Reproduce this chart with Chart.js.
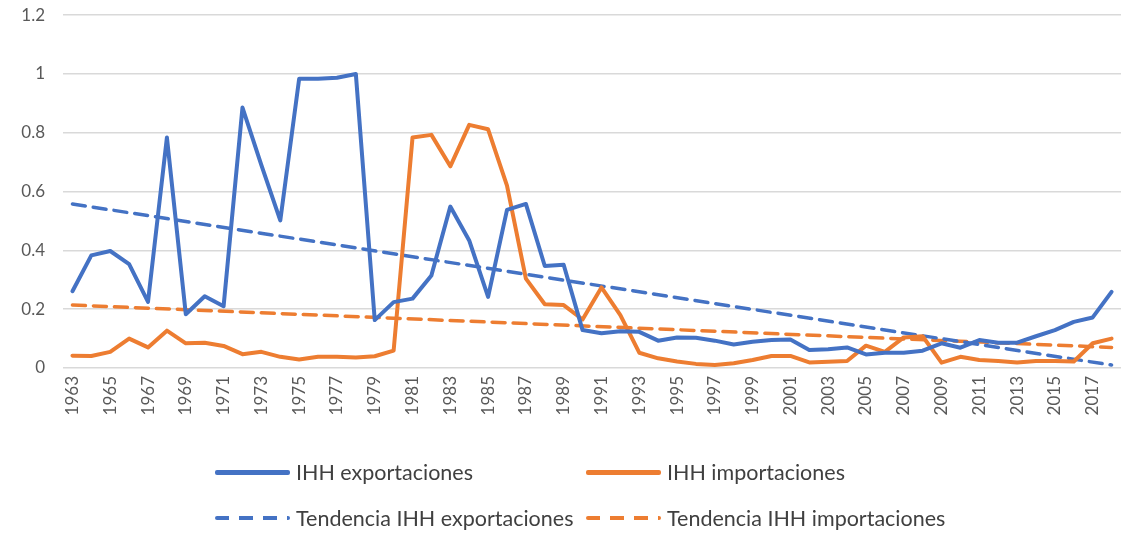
<!DOCTYPE html>
<html>
<head>
<meta charset="utf-8">
<script src="https://cdn.jsdelivr.net/npm/chart.js@4.4.1/dist/chart.umd.min.js"></script>
<style>
    html, body { margin: 0; padding: 0; background: #fff; overflow: hidden; }
    #wrap { position: relative; width: 1140px; height: 533px; overflow: hidden; }
    #chart { position: absolute; left: 0; top: -13px; }
    #legend { position: absolute; inset: 0; pointer-events: none; font-family: Lato, sans-serif; font-size: 21.5px; color: #404040; }
    .item { position: absolute; display: flex; align-items: center; white-space: nowrap; height: 28px; }
    .item.c0 { left: 215px; }
    .item.c1 { left: 586px; }
    .item.r0 { top: 458px; }
    .item.r1 { top: 504px; }
    .swatch { width: 75px; height: 5px; margin-right: 6px; border-radius: 2px; }
</style>
</head>
<body>
<div id="wrap">
    <canvas id="chart" width="1140" height="546"></canvas>
    <div id="legend"></div>
</div>
<script>
const years = [
    '1963', '1964', '1965', '1966', '1967', '1968', '1969', '1970', '1971', '1972',
    '1973', '1974', '1975', '1976', '1977', '1978', '1979', '1980', '1981', '1982',
    '1983', '1984', '1985', '1986', '1987', '1988', '1989', '1990', '1991', '1992',
    '1993', '1994', '1995', '1996', '1997', '1998', '1999', '2000', '2001', '2002',
    '2003', '2004', '2005', '2006', '2007', '2008', '2009', '2010', '2011', '2012',
    '2013', '2014', '2015', '2016', '2017', '2018',
];

const ihhExport = [
    0.261, 0.383, 0.398, 0.353, 0.225, 0.784, 0.183, 0.244, 0.210, 0.886,
    0.690, 0.502, 0.984, 0.984, 0.987, 1.000, 0.163, 0.224, 0.236, 0.315,
    0.549, 0.434, 0.242, 0.538, 0.558, 0.347, 0.351, 0.129, 0.118, 0.125,
    0.123, 0.093, 0.104, 0.103, 0.093, 0.080, 0.089, 0.095, 0.097, 0.061,
    0.064, 0.070, 0.046, 0.052, 0.052, 0.059, 0.084, 0.069, 0.095, 0.086,
    0.086, 0.108, 0.129, 0.157, 0.172, 0.259,
];

const ihhImport = [
    0.042, 0.041, 0.055, 0.100, 0.070, 0.127, 0.084, 0.086, 0.075, 0.047,
    0.055, 0.038, 0.029, 0.038, 0.038, 0.036, 0.040, 0.059, 0.784, 0.793,
    0.686, 0.827, 0.812, 0.620, 0.304, 0.217, 0.214, 0.165, 0.274, 0.180,
    0.052, 0.033, 0.022, 0.014, 0.010, 0.016, 0.027, 0.041, 0.041, 0.019,
    0.021, 0.024, 0.076, 0.055, 0.104, 0.108, 0.018, 0.038, 0.027, 0.024,
    0.019, 0.024, 0.024, 0.022, 0.084, 0.100,
];

// trend lines: value at first and last year
const trendExport = [0.558, 0.010];
const trendImport = [0.214, 0.070];

const yTicks = [0, 0.2, 0.4, 0.6, 0.8, 1, 1.2];

const blue = '#4472c4';
const orange = '#ed7d31';

const endsOnly = ([first, last]) => years.map((y, i) => (i === 0 ? first : i === years.length - 1 ? last : null));

const datasets = [
    { label: 'IHH exportaciones', data: ihhExport, borderColor: blue, backgroundColor: blue, borderWidth: 4 },
    { label: 'IHH importaciones', data: ihhImport, borderColor: orange, backgroundColor: orange, borderWidth: 4 },
    { label: 'Tendencia IHH exportaciones', data: endsOnly(trendExport), borderColor: blue, backgroundColor: blue, borderWidth: 3.5, borderDash: [13, 8], spanGaps: true },
    { label: 'Tendencia IHH importaciones', data: endsOnly(trendImport), borderColor: orange, backgroundColor: orange, borderWidth: 3.5, borderDash: [13, 8], spanGaps: true },
];

const tickFont = { family: 'Lato', size: 17 };

const chart = new Chart(document.getElementById('chart'), {
    type: 'line',
    data: { labels: years, datasets },
    options: {
        devicePixelRatio: 1,
        responsive: false,
        maintainAspectRatio: false,
        animation: false,
        layout: { padding: { top: 1, right: 3, left: 0, bottom: 0 } },
        elements: {
            point: { radius: 0, hoverRadius: 0 },
            line: { tension: 0, borderCapStyle: 'round', borderJoinStyle: 'round' },
        },
        plugins: {
            legend: { display: false },
            tooltip: { enabled: false },
        },
        scales: {
            x: {
                offset: true,
                grid: { display: false, drawTicks: false },
                border: { display: false },
                afterFit: (scale) => { scale.height = 165; },
                ticks: {
                    autoSkip: false,
                    minRotation: 90,
                    maxRotation: 90,
                    padding: 8,
                    color: '#595959',
                    font: tickFont,
                    callback: (value, index) => (index % 2 === 0 ? years[index] : ''),
                },
            },
            y: {
                min: 0,
                max: 1.2,
                afterBuildTicks: (scale) => { scale.ticks = yTicks.map((value) => ({ value })); },
                afterFit: (scale) => { scale.width = 63; },
                grid: { color: '#d9d9d9', lineWidth: 1.5, drawTicks: false },
                border: { display: false },
                ticks: {
                    padding: 18,
                    color: '#595959',
                    font: tickFont,
                    callback: (value) => String(Math.round(value * 10) / 10),
                },
            },
        },
    },
});

// legend in two columns, built from the datasets
const legend = document.getElementById('legend');
chart.data.datasets.forEach((ds, i) => {
    const item = document.createElement('div');
    item.className = `item c${i % 2} r${Math.floor(i / 2)}`;
    const swatch = document.createElement('span');
    swatch.className = 'swatch';
    swatch.style.background = ds.borderDash
        ? `repeating-linear-gradient(90deg, ${ds.borderColor} 0 14px, transparent 14px 24px)`
        : ds.borderColor;
    if (ds.borderDash) swatch.style.height = '4px';
    const text = document.createElement('span');
    text.textContent = ds.label;
    item.append(swatch, text);
    legend.appendChild(item);
});
</script>
</body>
</html>
